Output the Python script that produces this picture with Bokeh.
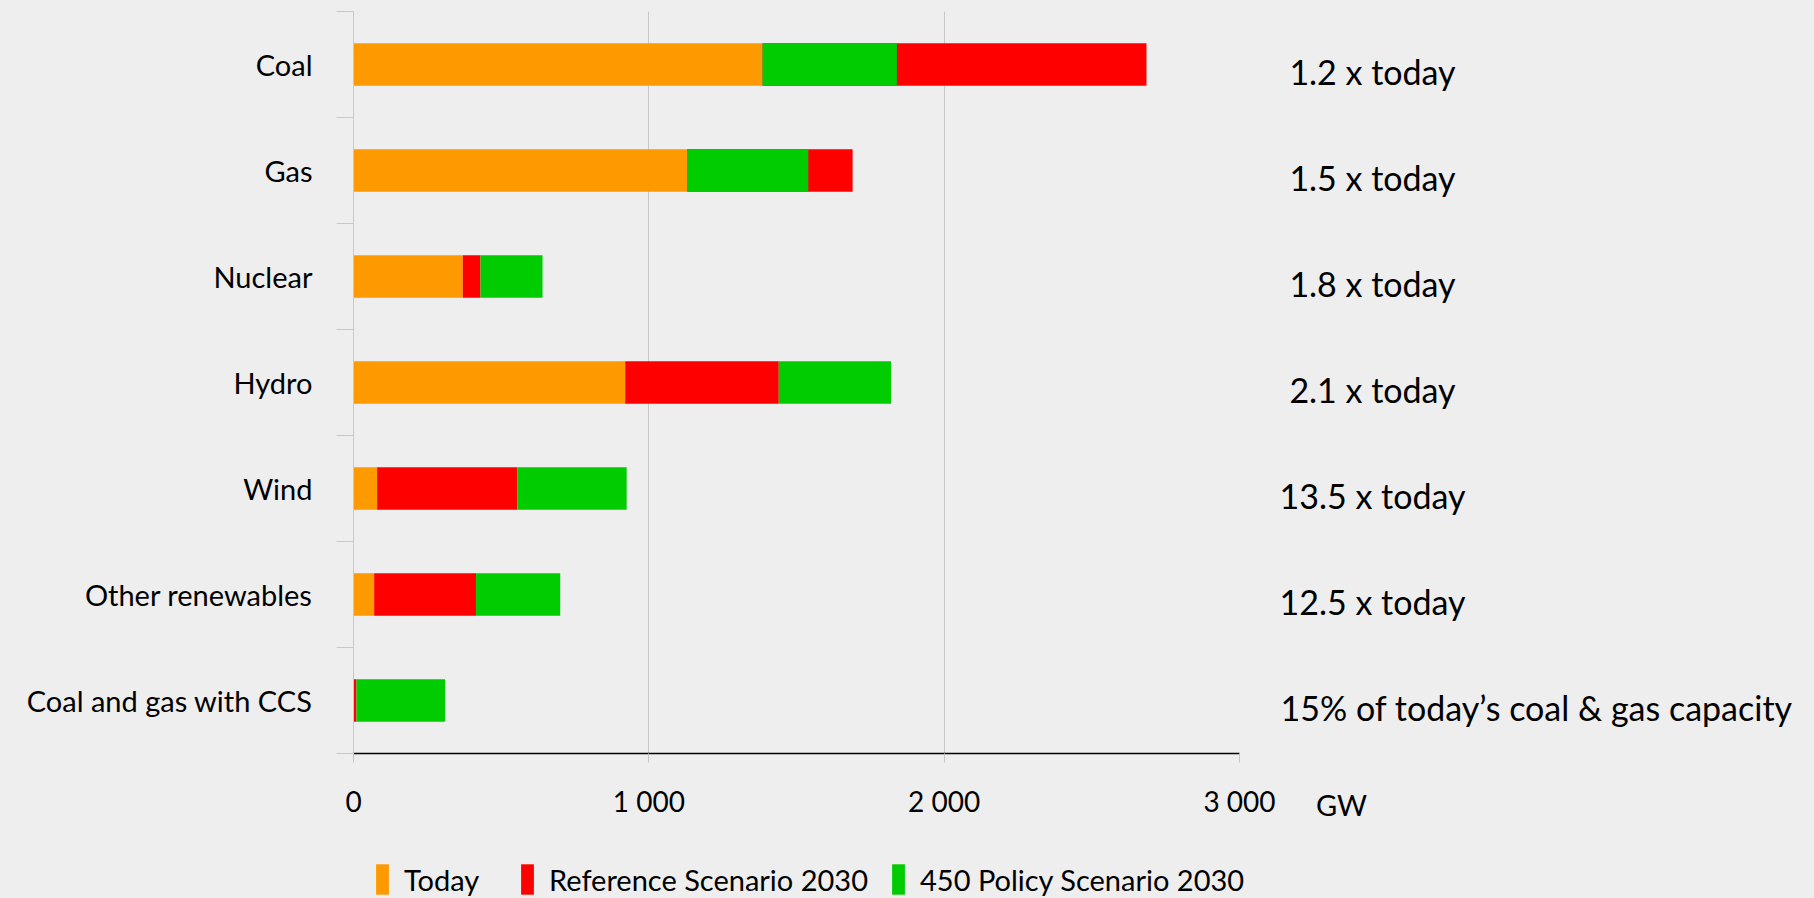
from bokeh.plotting import figure
from bokeh.layouts import row, column
from bokeh.models import ColumnDataSource, Range1d, FixedTicker, Legend, LegendItem
from bokeh.core.properties import value
from bokeh.embed import file_html
from bokeh.resources import INLINE

# ---- data (GW) ----
categories = ["Coal", "Gas", "Nuclear", "Hydro", "Wind", "Other renewables", "Coal and gas with CCS"]
today = [1385, 1130, 370, 920, 80, 70, 0]
reference_2030 = [2685, 1690, 430, 1440, 555, 415, 10]
policy450_2030 = [1840, 1540, 640, 1820, 925, 700, 310]
notes = ["1.2 x today", "1.5 x today", "1.8 x today", "2.1 x today",
         "13.5 x today", "12.5 x today", "15% of today\u2019s coal & gas capacity"]
x_ticks = [0, 1000, 2000, 3000]
x_tick_labels = ["0", "1 000", "2 000", "3 000"]
series_names = ["Today", "Reference Scenario 2030", "450 Policy Scenario 2030"]
unit = "GW"

BG = "#eeeeee"
ORANGE = "#ff9900"
RED = "#ff0000"
GREEN = "#00cc00"
GRID = "#c8c8c8"
FONT = "Lato"
COLORS = [ORANGE, RED, GREEN]

n = len(categories)
ypos = [n - i - 0.5 for i in range(n)]
green_left = [r if p > r else t for t, r, p in zip(today, reference_2030, policy450_2030)]

src = ColumnDataSource(dict(
    y=ypos, today=today, ref=reference_2030, p450=policy450_2030,
    zero=[0] * n, gleft=green_left))

# layout geometry (screen px)
TOTAL_W, TOTAL_H = 1814, 898
F_LEFT, F_TOP, F_BOTTOM, F_RIGHT = 353, 11, 753, 1239
MAIN_W = F_RIGHT + 40
MAIN_H = 848

p = figure(width=MAIN_W, height=MAIN_H, output_backend="svg", toolbar_location=None,
           x_range=Range1d(0, 3000), y_range=Range1d(0, n),
           min_border_left=F_LEFT, min_border_right=MAIN_W - F_RIGHT,
           min_border_top=F_TOP, min_border_bottom=MAIN_H - F_BOTTOM,
           background_fill_color=BG, border_fill_color=BG)
p.outline_line_color = None

p.hbar(y="y", left="zero", right="today", height=0.4, source=src,
       fill_color=ORANGE, line_color=None)
p.hbar(y="y", left="today", right="ref", height=0.4, source=src,
       fill_color=RED, line_color=None)
p.hbar(y="y", left="gleft", right="p450", height=0.4, source=src,
       fill_color=GREEN, line_color=None)

# x axis
xa = p.xaxis[0]
xa.ticker = FixedTicker(ticks=x_ticks)
xa.major_label_overrides = {t: l for t, l in zip(x_ticks, x_tick_labels)}
xa.axis_line_color = "black"
xa.axis_line_width = 1.5
xa.major_tick_line_color = GRID
xa.major_tick_out = 9
xa.major_tick_in = 0
xa.minor_tick_line_color = None
xa.major_label_standoff = 21
xa.major_label_text_font = FONT
xa.major_label_text_font_size = "28px"
xa.major_label_text_color = "black"

# y axis: labels at category centres, ticks at boundaries
ya = p.yaxis[0]
ya.ticker = FixedTicker(ticks=ypos, minor_ticks=list(range(n + 1)))
ya.major_label_overrides = {y: c for y, c in zip(ypos, categories)}
ya.axis_line_color = GRID
ya.major_tick_line_color = None
ya.major_tick_out = 0
ya.major_tick_in = 0
ya.minor_tick_line_color = GRID
ya.minor_tick_out = 17
ya.minor_tick_in = 0
ya.major_label_standoff = 24
ya.major_label_text_font = FONT
ya.major_label_text_font_size = "29px"
ya.major_label_text_color = "black"

p.xgrid.ticker = FixedTicker(ticks=x_ticks)
p.xgrid.grid_line_color = GRID
p.ygrid.grid_line_color = None

# ---- notes panel on the right (shares the vertical range of the bars) ----
NOTES_W = TOTAL_W - MAIN_W
q = figure(width=NOTES_W, height=MAIN_H, output_backend="svg", toolbar_location=None,
           x_range=Range1d(0, NOTES_W), y_range=p.y_range,
           x_axis_location="below", y_axis_location=None,
           min_border_left=0, min_border_right=0,
           min_border_top=F_TOP, min_border_bottom=MAIN_H - F_BOTTOM,
           background_fill_color=None, border_fill_color=BG)
q.outline_line_color = None
q.xgrid.grid_line_color = None
q.ygrid.grid_line_color = None
q.text(x=[93] * (n - 1), y=ypos[:-1], text=notes[:-1], y_offset=7,
       text_align="center", text_baseline="middle",
       text_font=value(FONT), text_font_size=value("34px"), text_color="black")
q.text(x=[1], y=ypos[-1:], text=notes[-1:], y_offset=7,
       text_align="left", text_baseline="middle",
       text_font=value(FONT), text_font_size=value("34px"), text_color="black")

# unit label as the tick label of the notes panel's bottom axis
qa = q.xaxis[0]
qa.ticker = FixedTicker(ticks=[62])
qa.major_label_overrides = {62: unit}
qa.axis_line_color = None
qa.major_tick_line_color = None
qa.minor_tick_line_color = None
qa.major_tick_out = 0
qa.major_tick_in = 0
qa.major_label_standoff = 33
qa.major_label_text_font = FONT
qa.major_label_text_font_size = "29px"
qa.major_label_text_color = "black"

# ---- legend strip at the bottom ----
LEG_H = TOTAL_H - MAIN_H
lg_fig = figure(width=TOTAL_W, height=LEG_H, output_backend="svg", toolbar_location=None,
                x_range=Range1d(0, 1), y_range=Range1d(0, 1),
                x_axis_location=None, y_axis_location=None,
                min_border_left=0, min_border_right=0, min_border_top=0, min_border_bottom=0,
                background_fill_color=None, border_fill_color=BG)
lg_fig.outline_line_color = None
lg_fig.xgrid.grid_line_color = None
lg_fig.ygrid.grid_line_color = None
for name, col, xloc in zip(series_names, COLORS, [374, 519, 890]):
    # swatch renderer kept outside the visible range; only its legend glyph shows
    rr = lg_fig.hbar(y=[-10], left=[0], right=[0.1], height=0.4,
                     fill_color=col, line_color=None)
    lg = Legend(items=[LegendItem(label=name, renderers=[rr])],
                location=(xloc, 0), orientation="horizontal",
                glyph_width=16, glyph_height=38, label_standoff=14,
                padding=0, margin=0, border_line_color=None,
                background_fill_alpha=0, label_text_font=FONT,
                label_text_font_size="29px", label_text_color="black")
    lg_fig.add_layout(lg, "center")

layout = column(row(p, q, styles={"background-color": BG}), lg_fig,
                styles={"background-color": BG})

html = file_html(layout, INLINE)
html = html.replace("<body>", '<body style="background:#eeeeee">', 1)
open("out.html", "w").write(html)
